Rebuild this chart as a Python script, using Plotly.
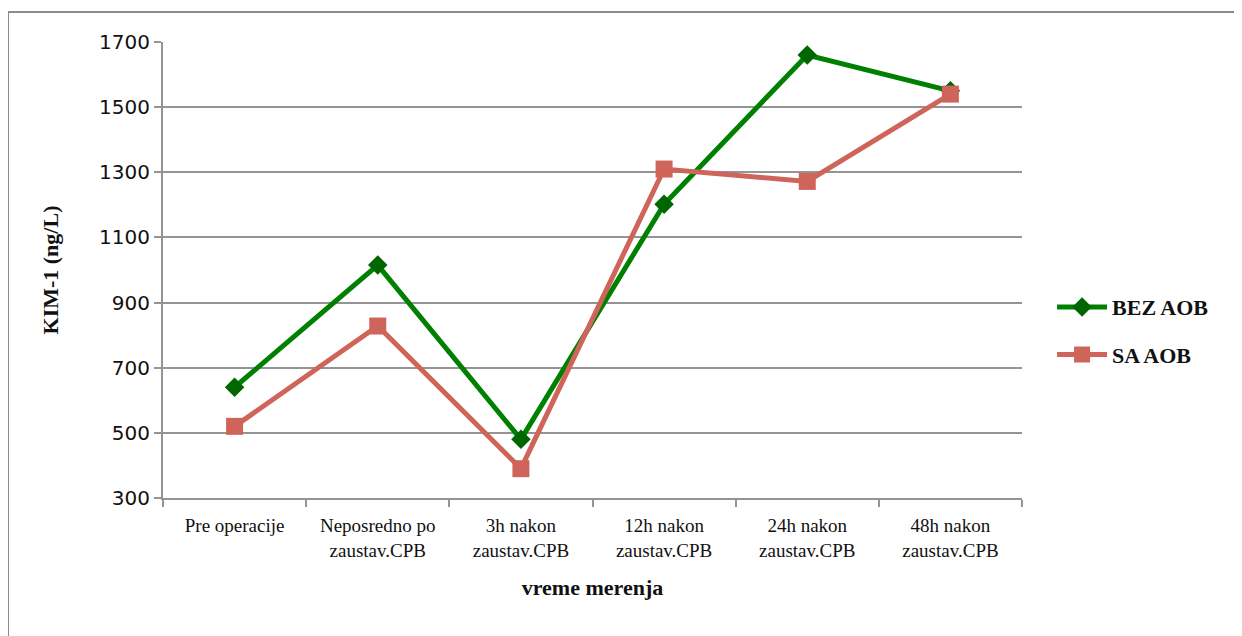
import plotly.graph_objects as go

categories = ["Pre operacije", "Neposredno po<br>zaustav.CPB", "3h nakon<br>zaustav.CPB",
              "12h nakon<br>zaustav.CPB", "24h nakon<br>zaustav.CPB", "48h nakon<br>zaustav.CPB"]
bez_aob = [640, 1015, 480, 1202, 1660, 1550]
sa_aob = [520, 828, 390, 1310, 1272, 1540]
y_ticks = [300, 500, 700, 900, 1100, 1300, 1500, 1700]

GREEN = "#008000"
GREEN_MK = "#006600"
RED = "#CF655A"
GRID = "#949494"
SERIF = "Liberation Serif, Times New Roman, DejaVu Serif, serif"

fig = go.Figure()

fig.add_trace(go.Scatter(
    x=categories, y=bez_aob, name="<b>BEZ AOB</b>", mode="lines+markers",
    line=dict(color=GREEN, width=5), legendgroup="a",
    marker=dict(symbol="diamond", size=15, color=GREEN_MK)))

fig.add_trace(go.Scatter(
    x=categories, y=sa_aob, name="<b>SA AOB</b>", mode="lines+markers",
    line=dict(color=RED, width=5), legendgroup="b",
    marker=dict(symbol="square", size=17, color=RED)))

# outer frame of the original (cropped at right and bottom)
fig.add_shape(type="rect", xref="paper", yref="paper",
              x0=-0.1804, x1=1.6, y0=-0.6, y1=1.0658,
              line=dict(color="#8c8c8c", width=2), layer="below")

fig.update_xaxes(
    type="category", range=[-0.5, 5.5], tickson="boundaries",
    ticks="outside", ticklen=7, tickcolor=GRID, tickwidth=2,
    showline=True, linecolor=GRID, linewidth=2, showgrid=False,
    ticklabelstandoff=9,
    tickfont=dict(family=SERIF, size=19, color="#111"),
    title=dict(text="<b>vreme merenja</b>", standoff=20,
               font=dict(family=SERIF, size=22, color="#111")))

fig.update_yaxes(
    range=[300, 1700], tickvals=y_ticks,
    ticks="outside", ticklen=7, tickcolor=GRID, tickwidth=2,
    showline=True, linecolor=GRID, linewidth=2,
    showgrid=True, gridcolor=GRID, gridwidth=2, zeroline=False,
    tickfont=dict(family="DejaVu Sans", size=20, color="#111"),
    title=dict(text="<b>KIM-1 (ng/L)</b>", standoff=34,
               font=dict(family=SERIF, size=22, color="#111")))

fig.update_layout(
    width=1234, height=628,
    margin=dict(l=155, r=220, t=34, b=138),
    paper_bgcolor="white", plot_bgcolor="white",
    showlegend=True,
    legend=dict(x=1.035, y=0.366, xanchor="left", yanchor="middle",
                tracegroupgap=16, itemwidth=50,
                font=dict(family=SERIF, size=22, color="#111")),
)

fig.write_html("out.html")
